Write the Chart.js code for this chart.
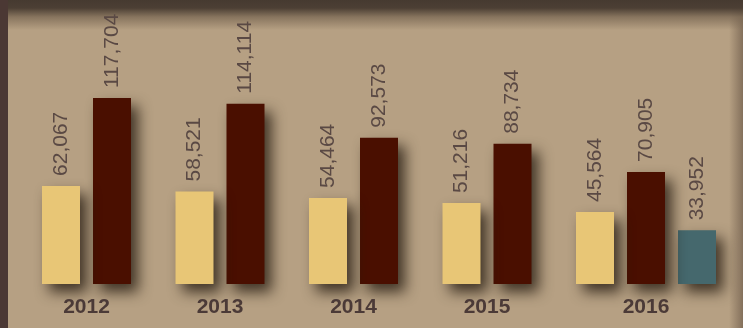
<!DOCTYPE html>
<html>
<head>
<meta charset="utf-8">
<script src="https://cdn.jsdelivr.net/npm/chart.js@4.4.0/dist/chart.umd.min.js"></script>
<style>
  html, body { margin: 0; padding: 0; }
  #wrap {
    position: relative; width: 743px; height: 328px; overflow: hidden;
    background:
      linear-gradient(to right, #4b3834 0px, #4b3834 8px, rgba(0,0,0,0) 8px),
      linear-gradient(to bottom, #463a30 0px, #4c3f34 8px, rgba(120,102,82,0.75) 17px, rgba(182,160,131,0) 30px),
      linear-gradient(to left, rgba(90,72,58,0.55) 0px, rgba(182,160,131,0) 14px),
      #b6a083;
  }
  canvas { position: absolute; left: 0; top: 0; }
</style>
</head>
<body>
<div id="wrap"><canvas id="c" width="743" height="328"></canvas></div>
<script>
const categories = ['2012', '2013', '2014', '2015', '2016'];
const seriesA = [62067, 58521, 54464, 51216, 45564];
const seriesB = [117704, 114114, 92573, 88734, 70905];
const seriesC = [null, null, null, null, 33952];

const shadowPlugin = {
  id: 'barShadow',
  beforeDatasetsDraw(chart) {
    const ctx = chart.ctx;
    ctx.save();
    ctx.shadowColor = 'rgba(35,25,15,0.8)';
    ctx.shadowBlur = 14;
    ctx.shadowOffsetX = 7;
    ctx.shadowOffsetY = 8;
  },
  afterDatasetsDraw(chart) {
    chart.ctx.restore();
  }
};

const labelPlugin = {
  id: 'labels',
  afterDraw(chart) {
    const ctx = chart.ctx;
    ctx.save();
    ctx.fillStyle = '#5a4944';
    ctx.font = '21px "Liberation Sans", Arial, sans-serif';
    ctx.textAlign = 'left';
    ctx.textBaseline = 'middle';
    chart.data.datasets.forEach((ds, di) => {
      const meta = chart.getDatasetMeta(di);
      meta.data.forEach((el, i) => {
        const v = ds.data[i];
        if (v === null || v === undefined) return;
        ctx.save();
        ctx.translate(el.x, el.y - 10);
        ctx.rotate(-Math.PI / 2);
        ctx.fillText(v.toLocaleString('en-US'), 0, 0);
        ctx.restore();
      });
    });
    ctx.fillStyle = '#4b3a37';
    ctx.font = 'bold 21px "Liberation Sans", Arial, sans-serif';
    ctx.textAlign = 'center';
    ctx.textBaseline = 'alphabetic';
    categories.forEach((cat, i) => {
      const xs = [];
      chart.data.datasets.forEach((ds, di) => {
        const v = ds.data[i];
        if (v === null || v === undefined) return;
        xs.push(chart.getDatasetMeta(di).data[i].x);
      });
      const cx = (Math.min(...xs) + Math.max(...xs)) / 2;
      ctx.fillText(cat, cx, chart.chartArea.bottom + 29);
    });
    ctx.restore();
  }
};

new Chart(document.getElementById('c'), {
  type: 'bar',
  data: {
    labels: categories,
    datasets: [
      { data: seriesA, backgroundColor: '#e8c676', clip: false },
      { data: seriesB, backgroundColor: '#4a0f00', clip: false },
      { data: seriesC, backgroundColor: '#45686d', clip: false }
    ]
  },
  options: {
    responsive: false,
    animation: false,
    devicePixelRatio: 1,
    categoryPercentage: 153 / 133.5,
    barPercentage: 38 / 51,
    layout: { padding: { left: 45.25, right: 30.25, top: 47, bottom: 44 } },
    plugins: { legend: { display: false }, tooltip: { enabled: false } },
    scales: {
      x: { display: false },
      y: { display: false, min: 0, max: 150000 }
    }
  },
  plugins: [shadowPlugin, labelPlugin]
});
</script>
</body>
</html>
